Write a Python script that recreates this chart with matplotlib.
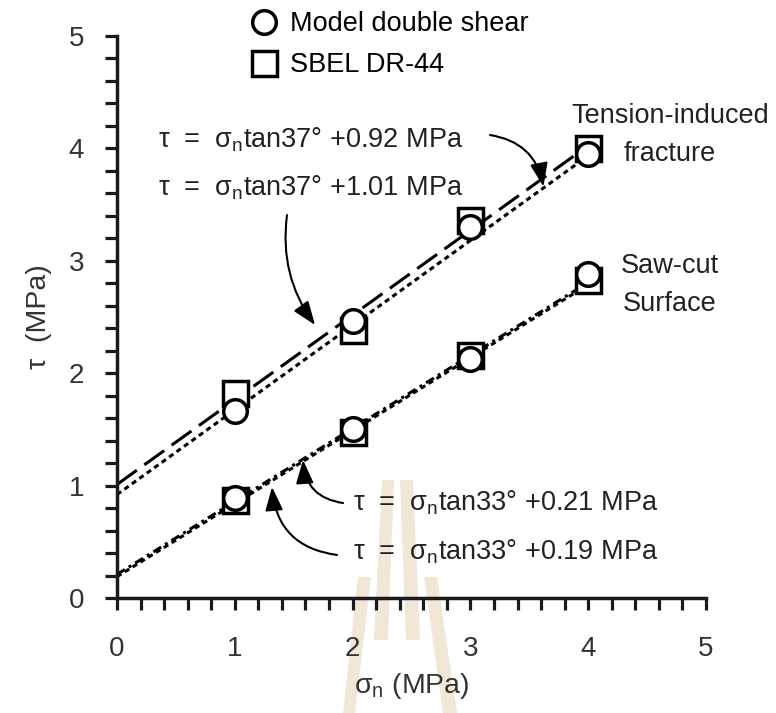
import numpy as np
import matplotlib
matplotlib.use("Agg")
import matplotlib.pyplot as plt
from matplotlib.patches import Polygon

plt.rcParams['font.family'] = ['Liberation Sans', 'DejaVu Sans']
plt.rcParams['mathtext.fontset'] = 'custom'
plt.rcParams['mathtext.rm'] = 'Liberation Sans'
plt.rcParams['mathtext.it'] = 'Liberation Sans:italic'

# normal stress (MPa) and peak shear stress (MPa)
sigma_n = [1, 2, 3, 4]
tif_model = [1.66, 2.46, 3.30, 3.95]
tif_sbel = [1.82, 2.38, 3.36, 4.00]
saw_model = [0.89, 1.50, 2.13, 2.88]
saw_sbel = [0.87, 1.48, 2.16, 2.83]

# Coulomb fits: friction angle (deg) and cohesion (MPa)
tif_phi = 37
tif_c = [0.92, 1.01]
saw_phi = 33
saw_c = [0.21, 0.19]
fit_x = np.array([0, 4.0])

fig = plt.figure(figsize=(7.76, 7.13), dpi=100)
ax = fig.add_axes([0.1508, 0.1613, 0.759, 0.7882])

# faint watermark behind the plot (pixel outlines of the logo strips)
W, H = 776, 713
strips = [
    [(358, 577), (371, 577), (355, 713), (343, 713)],
    [(424, 577), (437, 577), (457, 713), (443, 713)],
    [(382, 480), (394, 480), (388, 640), (374, 640)],
    [(400, 480), (413, 480), (420, 640), (406, 640)],
]
for s in strips:
    fig.patches.append(Polygon([(x / W, 1 - y / H) for x, y in s], closed=True,
                               transform=fig.transFigure, facecolor='#f0e7d7',
                               edgecolor='none', zorder=-10))
ax.set_facecolor('none')

dot = (1.7, 1.3)
lw = 2.2
# tension-induced fracture fits
ax.plot(fit_x, fit_x * np.tan(np.radians(tif_phi)) + tif_c[1], color='black', lw=lw,
        dashes=(8, 3), zorder=2)
ax.plot(fit_x, fit_x * np.tan(np.radians(tif_phi)) + tif_c[0], color='black', lw=lw,
        dashes=dot, zorder=2)
# saw-cut surface fits
ax.plot(fit_x, fit_x * np.tan(np.radians(saw_phi)) + saw_c[0], color='black', lw=lw,
        dashes=(3, 1.5, 1, 1.5), zorder=2)
ax.plot(fit_x, fit_x * np.tan(np.radians(saw_phi)) + saw_c[1], color='black', lw=lw,
        dashes=dot, zorder=2)

sq_kw = dict(ls='none', marker='s', ms=18, mew=2.5, mec='black', mfc='white', zorder=3)
ci_kw = dict(ls='none', marker='o', ms=17, mew=2.5, mec='black', mfc='white', zorder=4)
h_sq, = ax.plot(sigma_n, tif_sbel, **sq_kw)
ax.plot(sigma_n, saw_sbel, **sq_kw)
h_ci, = ax.plot(sigma_n, tif_model, **ci_kw)
ax.plot(sigma_n, saw_model, **ci_kw)

leg = fig.legend([h_ci, h_sq], ['Model double shear', 'SBEL DR-44'],
                 loc='upper left', bbox_to_anchor=(0.319, 0.988), frameon=False,
                 fontsize=19.5, handlelength=1.0, handletextpad=0.45,
                 labelspacing=0.55, borderpad=0.1, borderaxespad=0.0)

ax.set_xlim(0, 5)
ax.set_ylim(0, 5)
ax.set_xticks(np.arange(0, 6, 1))
ax.set_yticks(np.arange(0, 6, 1))
ax.set_xticks(np.arange(0, 5.01, 0.2), minor=True)
ax.set_yticks(np.arange(0, 5.01, 0.2), minor=True)
for side in ['top', 'right']:
    ax.spines[side].set_visible(False)
for side in ['left', 'bottom']:
    ax.spines[side].set_linewidth(2.5)
    ax.spines[side].set_color('#1a1a1a')
ax.tick_params(which='both', direction='out', length=8.6, width=2.3, color='#1a1a1a')
ax.tick_params(axis='x', which='major', pad=19, labelsize=20, labelcolor='#333333')
ax.tick_params(axis='y', which='major', pad=15, labelsize=20, labelcolor='#333333')
ax.set_xlabel('σ$_\\mathregular{n}$ (MPa)', fontsize=20.5, color='#333333', labelpad=6)
ax.set_ylabel('τ  (MPa)', fontsize=20.5, color='#333333', labelpad=12)

eq_fs = 19.5
eq_col = '#222222'
ax.text(0.348, 4.075, 'τ  =  σ$_\\mathregular{n}$tan37° +0.92 MPa', fontsize=eq_fs,
        ha='left', va='center', color=eq_col)
ax.text(0.348, 3.648, 'τ  =  σ$_\\mathregular{n}$tan37° +1.01 MPa', fontsize=eq_fs,
        ha='left', va='center', color=eq_col)
ax.text(2.003, 0.845, 'τ  =  σ$_\\mathregular{n}$tan33° +0.21 MPa', fontsize=eq_fs,
        ha='left', va='center', color=eq_col)
ax.text(2.003, 0.409, 'τ  =  σ$_\\mathregular{n}$tan33° +0.19 MPa', fontsize=eq_fs,
        ha='left', va='center', color=eq_col)

ax.text(4.694, 4.12, 'Tension-induced\nfracture', fontsize=19.5, ha='center',
        va='center', linespacing=1.6, color=eq_col)
ax.text(4.694, 2.785, 'Saw-cut\nSurface', fontsize=19.5, ha='center',
        va='center', linespacing=1.6, color=eq_col)

arrow = dict(arrowstyle='-|>,head_length=0.8,head_width=0.3', color='black',
             lw=1.5, mutation_scale=18, shrinkA=0, shrinkB=0)
ax.annotate('', xy=(3.62, 3.66), xytext=(3.166, 4.119),
            arrowprops=dict(connectionstyle='arc3,rad=-0.35', **arrow))
ax.annotate('', xy=(1.681, 2.429), xytext=(1.443, 3.407),
            arrowprops=dict(connectionstyle='arc3,rad=0.2', **arrow))
ax.annotate('', xy=(1.579, 1.228), xytext=(1.919, 0.845),
            arrowprops=dict(connectionstyle='arc3,rad=-0.4', **arrow))
ax.annotate('', xy=(1.316, 0.988), xytext=(1.868, 0.383),
            arrowprops=dict(connectionstyle='arc3,rad=-0.4', **arrow))

fig.savefig('out.png', dpi=100)
